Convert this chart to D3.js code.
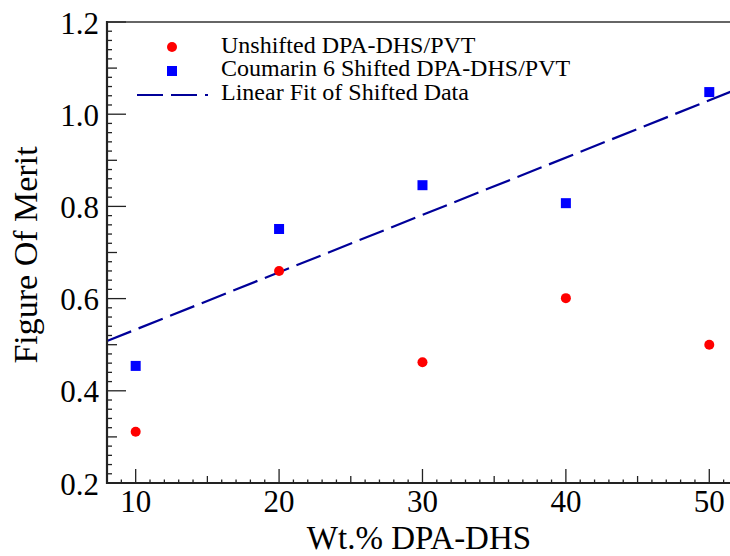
<!DOCTYPE html>
<html>
<head>
<meta charset="utf-8">
<script src="https://cdn.jsdelivr.net/npm/d3@7"></script>
<style>
  html, body { margin: 0; padding: 0; background: #fff; }
  svg { display: block; }
  text { font-family: "Liberation Serif", "Times New Roman", serif; fill: #000; }
</style>
</head>
<body>
<div id="chart"></div>
<script>
// ---- data ----
const wtPercent = [10, 20, 30, 40, 50];
const unshifted = [0.311, 0.660, 0.462, 0.601, 0.500];
const shifted = [0.454, 0.751, 0.846, 0.807, 1.048];
const fitX = [8, 52];
const fitY = [0.508, 1.055];
const xTicks = [10, 20, 30, 40, 50];
const yTicks = [0.2, 0.4, 0.6, 0.8, 1.0, 1.2];
const legendLabels = ["Unshifted DPA-DHS/PVT", "Coumarin 6 Shifted DPA-DHS/PVT", "Linear Fit of Shifted Data"];
const xTitle = "Wt.% DPA-DHS";
const yTitle = "Figure Of Merit";

// ---- layout ----
const W = 730, H = 556;
const mLeft = 107, mTop = 22, mBottom = 483;
const x = d3.scaleLinear().domain([8, 52]).range([mLeft, mLeft + 44 * 14.34]);
const y = d3.scaleLinear().domain([0.2, 1.2]).range([mBottom, mTop]);

const svg = d3.select("#chart").append("svg").attr("width", W).attr("height", H);

// top frame line
svg.append("line").attr("x1", mLeft).attr("x2", W).attr("y1", mTop).attr("y2", mTop)
  .attr("stroke", "#666").attr("stroke-width", 2);

// fit line
const line = d3.line().x(d => x(d[0])).y(d => y(d[1]));
svg.append("path").datum(fitX.map((v, i) => [v, fitY[i]]))
  .attr("d", line).attr("fill", "none").attr("stroke", "#000099")
  .attr("stroke-width", 2.2).attr("stroke-dasharray", "26,8");

// x axis minor/medium/major ticks
const xAxisG = svg.append("g").attr("transform", `translate(0,${mBottom})`);
const xMinor = d3.range(9, 52, 1);
xAxisG.selectAll("line.xt").data(xMinor).join("line")
  .attr("x1", d => x(d)).attr("x2", d => x(d)).attr("y1", 0)
  .attr("y2", d => d % 10 === 0 ? -14 : (d % 5 === 0 ? -7 : -3.5))
  .attr("stroke", "#222").attr("stroke-width", 1.3);
xAxisG.append("line").attr("x1", mLeft - 1).attr("x2", W).attr("y1", 0).attr("y2", 0)
  .attr("stroke", "#222").attr("stroke-width", 2.2);
xAxisG.selectAll("text").data(xTicks).join("text")
  .attr("x", d => x(d)).attr("y", 28.5).attr("text-anchor", "middle")
  .attr("font-size", 31).text(d => d);

// y axis ticks
const yAxisG = svg.append("g").attr("transform", `translate(${mLeft},0)`);
const yMinor = d3.range(0, 51).map(i => 0.2 + i * 0.02);
yAxisG.selectAll("line.yt").data(yMinor).join("line")
  .attr("y1", d => y(d)).attr("y2", d => y(d)).attr("x1", 0)
  .attr("x2", (d, i) => i % 10 === 0 ? 19 : (i % 5 === 0 ? 10 : 5))
  .attr("stroke", "#222").attr("stroke-width", 1.3);
yAxisG.append("line").attr("x1", 0).attr("x2", 0).attr("y1", mTop - 1).attr("y2", mBottom + 1)
  .attr("stroke", "#222").attr("stroke-width", 2.2);
yAxisG.selectAll("text").data(yTicks).join("text")
  .attr("x", -8).attr("y", d => y(d) + 11.5).attr("text-anchor", "end")
  .attr("font-size", 31).text(d => d3.format(".1f")(d));

// markers
svg.selectAll("circle.u").data(wtPercent).join("circle")
  .attr("cx", d => x(d)).attr("cy", (d, i) => y(unshifted[i])).attr("r", 5)
  .attr("fill", "#ff0000");
svg.selectAll("rect.s").data(wtPercent).join("rect")
  .attr("x", d => x(d) - 5).attr("y", (d, i) => y(shifted[i]) - 5)
  .attr("width", 10).attr("height", 10).attr("fill", "#0000ff");

// legend
const lg = svg.append("g");
lg.append("circle").attr("cx", 172).attr("cy", 47).attr("r", 5).attr("fill", "#ff0000");
lg.append("rect").attr("x", 167).attr("y", 66).attr("width", 10).attr("height", 10).attr("fill", "#0000ff");
lg.append("line").attr("x1", 137).attr("x2", 208).attr("y1", 95).attr("y2", 95)
  .attr("stroke", "#000099").attr("stroke-width", 2.2).attr("stroke-dasharray", "26,8");
lg.selectAll("text").data(legendLabels).join("text")
  .attr("x", 221).attr("y", (d, i) => 52.5 + i * 23.5).attr("font-size", 24).text(d => d);

// axis titles
svg.append("text").attr("x", 419).attr("y", 549).attr("text-anchor", "middle")
  .attr("font-size", 33).text(xTitle);
svg.append("text").attr("transform", "translate(37,255) rotate(-90)")
  .attr("text-anchor", "middle").attr("font-size", 34).text(yTitle);
</script>
</body>
</html>
